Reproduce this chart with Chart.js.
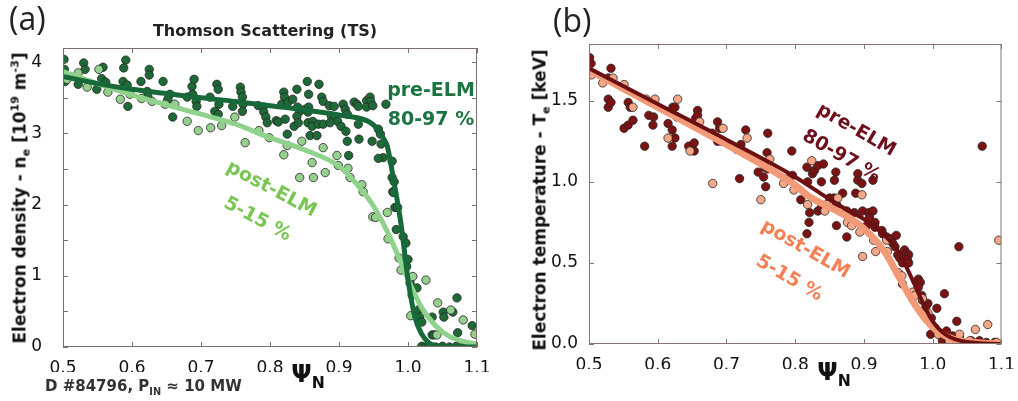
<!DOCTYPE html>
<html>
<head>
<meta charset="utf-8">
<script src="https://cdn.jsdelivr.net/npm/chart.js@4.4.1/dist/chart.umd.min.js"></script>
<style>
body { margin: 0; background: #fff; }
#fig { position: relative; width: 1018px; height: 401px; overflow: hidden; font-family: 'DejaVu Sans', sans-serif; }
canvas { position: absolute; top: 0; }
.t { position: absolute; white-space: nowrap; line-height: 1; transform: translate(-50%, -50%); font-weight: bold; }
.t sub, .t sup { font-size: 65%; line-height: 0; }
.rot { transform: translate(-50%, -50%) rotate(-90deg); }
.pl { position: absolute; font-family: 'Open Sans', sans-serif; font-size: 32px; line-height: 1; color: #222; }
</style>
</head>
<body>
<div id="fig">
  <canvas id="neChart" width="500" height="380" style="left:0"></canvas>
  <canvas id="teChart" width="508" height="380" style="left:510px"></canvas>

  <div class="pl" style="left:9px;top:2px">(a)</div>
  <div class="pl" style="left:553px;top:4px">(b)</div>

  <div class="t" style="left:265px;top:31px;font-size:16px;color:#222">Thomson Scattering (TS)</div>
  <div class="t rot" style="left:20px;top:198px;font-size:17px;color:#111">Electron density - n<sub>e</sub> [10<sup>19</sup> m<sup>-3</sup>]</div>
  <div class="t rot" style="left:540px;top:200px;font-size:17px;color:#111">Electron temperature - T<sub>e</sub> [keV]</div>
  <div class="t" style="left:308px;top:374px;font-size:24px;color:#111">&Psi;<sub>N</sub></div>
  <div class="t" style="left:834px;top:372px;font-size:24px;color:#111">&Psi;<sub>N</sub></div>
  <div class="t" style="left:45px;top:386px;transform:translate(0,-50%);font-size:15px;color:#333">D #84796, P<sub>IN</sub> &asymp; 10 MW</div>

  <div class="t" style="left:431px;top:89px;font-size:19px;color:#1c7540">pre-ELM</div>
  <div class="t" style="left:431px;top:118px;font-size:19px;color:#1c7540">80-97 %</div>
  <div class="t" style="left:272px;top:188px;font-size:19px;color:#79c653;transform:translate(-50%,-50%) rotate(28deg)">post-ELM</div>
  <div class="t" style="left:258px;top:218px;font-size:19px;color:#79c653;transform:translate(-50%,-50%) rotate(28deg)">5-15 %</div>

  <div class="t" style="left:857px;top:129px;font-size:19px;color:#6d0f1c;transform:translate(-50%,-50%) rotate(30deg)">pre-ELM</div>
  <div class="t" style="left:842px;top:155px;font-size:19px;color:#6d0f1c;transform:translate(-50%,-50%) rotate(30deg)">80-97 %</div>
  <div class="t" style="left:806px;top:248px;font-size:19px;color:#f58055;transform:translate(-50%,-50%) rotate(30deg)">post-ELM</div>
  <div class="t" style="left:790px;top:277px;font-size:19px;color:#f58055;transform:translate(-50%,-50%) rotate(30deg)">5-15 %</div>
</div>

<script>
// ---- (a) electron density, Thomson scattering ----
const nePrePsi = [0.5015,0.502,0.503,0.530,0.532,0.522,0.558,0.556,0.562,0.549,0.591,0.588,0.587,0.593,0.594,
  0.613,0.625,0.625,0.622,0.623,0.645,0.655,0.652,0.659,0.680,0.687,0.690,0.688,0.693,0.694,
  0.713,0.723,0.725,0.726,0.720,0.725,0.746,0.757,0.758,0.760,0.761,0.760,0.783,0.790,0.791,0.794,0.796,0.809,
  0.854,0.871,0.839,0.856,0.875,0.877,0.820,0.821,0.817,0.826,0.833,0.840,0.843,0.839,0.851,0.856,0.855,
  0.812,0.822,0.835,0.841,0.855,0.862,0.861,0.870,0.877,0.886,0.893,0.889,0.894,0.898,0.887,0.903,
  0.906,0.909,0.912,0.910,0.912,0.825,0.858,0.868,0.914,0.922,0.926,0.928,0.928,0.929,
  0.940,0.945,0.946,0.940,0.949,0.948,0.968,0.957,0.960,0.961,0.964,0.957,0.977,0.977,0.980,0.978,
  0.979,0.981,0.985,0.983,0.993,0.997,1.000,0.998,1.003,1.013,1.006,1.015,1.017,1.020,
  1.035,1.051,1.052,1.065,1.071,1.072,1.093,1.035,1.038,
  1.020,1.025,1.030,1.040,1.050,1.060,1.070,1.080];
const nePreVal = [4.04,3.90,3.73,3.99,3.90,3.69,3.93,3.77,3.72,3.62,4.03,3.92,3.73,3.68,3.38,
  3.73,3.90,3.82,3.59,3.52,3.73,3.55,3.48,3.23,3.51,3.66,3.76,3.55,3.45,3.38,
  3.51,3.69,3.62,3.41,3.31,3.27,3.38,3.65,3.58,3.51,3.41,3.31,3.39,3.37,3.30,3.23,3.15,3.18,
  3.73,3.69,3.62,3.55,3.51,3.45,3.58,3.51,3.41,3.44,3.48,3.37,3.31,3.24,3.34,3.37,3.30,
  3.16,3.20,3.10,3.15,3.15,3.17,3.10,3.13,3.13,3.39,3.38,3.24,3.20,3.17,3.15,3.10,
  3.41,3.34,3.27,3.03,2.89,2.99,2.97,2.97,2.69,3.44,3.41,3.38,3.13,2.92,
  3.46,3.51,3.45,3.37,3.39,2.89,3.41,3.06,2.99,2.85,2.66,2.65,2.61,2.38,2.32,2.18,
  2.17,1.96,1.96,1.65,1.55,1.46,1.23,1.13,0.90,0.83,0.73,0.52,0.42,0.35,
  0.42,0.49,0.42,0.49,0.69,0.20,0.30,0.17,0.17,
  0.01,0.00,0.01,0.00,0.01,0.00,0.01,0.00];

const nePostPsi = [0.506,0.522,0.535,0.552,0.565,0.583,0.597,0.614,0.629,0.648,0.662,0.680,0.696,0.714,0.730,
  0.749,0.764,0.784,0.799,0.820,0.825,0.843,0.846,0.861,0.863,0.877,0.880,0.897,0.899,0.913,0.916,
  0.933,0.935,0.949,0.953,0.970,0.971,0.987,0.990,1.007,1.026,1.004,1.043,1.062,1.080,1.097,1.042];
const nePostVal = [3.76,3.85,3.65,3.90,3.58,3.48,3.55,3.49,3.45,3.41,3.41,3.17,3.04,3.08,3.11,
  3.23,2.87,3.04,2.94,2.70,2.83,2.38,2.89,2.59,2.38,2.80,2.45,2.69,2.55,2.51,2.38,
  2.28,2.18,1.83,1.82,1.89,1.52,1.25,1.08,0.99,0.94,0.44,0.62,0.52,0.38,0.18,0.17];

const neFitPrePsi = [0.5,0.55,0.6,0.65,0.7,0.75,0.8,0.85,0.9,0.94,0.95,0.96,0.965,0.97,0.98,0.99,1.0,1.01,1.02,1.03,1.04,1.06,1.1];
const neFitPreVal = [3.80,3.70,3.62,3.56,3.50,3.45,3.39,3.33,3.26,3.18,3.12,3.00,2.92,2.82,2.30,1.72,0.95,0.42,0.18,0.06,0.02,0.0,0.0];
const neFitPostPsi = [0.5,0.55,0.6,0.65,0.7,0.75,0.8,0.85,0.9,0.93,0.95,0.97,0.99,1.0,1.02,1.04,1.06,1.08,1.1];
const neFitPostVal = [3.87,3.70,3.54,3.40,3.27,3.13,2.94,2.77,2.54,2.24,1.98,1.62,1.18,0.95,0.55,0.30,0.15,0.08,0.04];

// ---- (b) electron temperature ----
const tePrePsi = [0.501,0.503,0.532,0.528,0.528,0.528,0.532,0.551,0.557,0.564,0.557,0.560,0.581,0.587,0.592,0.594,0.593,
  0.615,0.621,0.625,0.621,0.622,0.625,0.628,0.645,0.653,0.653,0.655,0.658,0.658,0.679,0.687,0.687,0.690,0.693,
  0.721,0.719,0.728,0.746,0.754,0.756,0.760,0.759,0.760,0.754,0.757,0.795,0.796,0.789,
  0.817,0.818,0.825,0.828,0.833,0.841,0.838,0.859,0.857,0.891,0.891,0.808,0.821,0.820,0.817,0.833,0.838,
  0.850,0.856,0.860,0.869,0.860,0.875,0.886,0.888,0.875,
  0.897,0.913,0.898,0.907,0.913,0.908,0.916,0.904,0.916,0.926,0.927,0.933,0.940,0.947,0.942,0.945,
  0.959,0.962,0.965,0.949,0.952,0.963,0.956,0.965,1.038,0.979,0.982,0.979,0.956,0.972,0.984,0.985,
  0.993,0.990,1.017,1.006,0.998,1.003,0.997,1.020,1.035,1.014,1.029,1.039,1.056,1.068,1.078,1.090,1.023,1.072];
const tePreVal = [1.765,1.73,1.70,1.64,1.51,1.46,1.49,1.33,1.35,1.38,1.49,1.46,1.22,1.41,1.49,1.40,1.35,
  1.36,1.32,1.27,1.22,1.46,1.46,1.40,1.22,1.19,1.24,1.39,1.44,1.41,1.30,1.25,1.37,1.33,1.25,
  1.23,1.02,1.32,1.06,1.11,1.09,1.30,1.18,1.08,1.03,0.97,1.19,1.04,1.02,
  1.09,1.00,1.05,1.07,1.10,1.11,1.00,1.06,1.01,1.05,1.01,0.89,0.81,0.75,0.68,0.82,0.84,
  0.90,0.90,0.86,0.93,0.73,0.82,0.81,0.93,0.66,
  0.99,1.01,0.82,0.81,0.82,0.78,0.75,0.73,0.72,0.70,0.68,0.66,0.65,0.67,0.62,0.60,
  0.58,0.56,0.55,0.55,0.53,0.52,0.50,0.50,0.60,0.40,0.38,0.35,0.37,0.30,0.30,0.27,
  0.25,0.23,0.31,0.22,0.16,0.10,0.06,0.08,0.14,0.02,0.05,0.04,0.02,0.02,0.01,0.01,0.02,1.22];

const tePostPsi = [0.504,0.520,0.535,0.551,0.564,0.583,0.596,0.629,0.615,0.647,0.661,0.680,0.695,0.715,0.730,
  0.763,0.783,0.798,0.824,0.750,0.818,0.846,0.862,0.897,0.843,0.876,0.882,0.914,0.917,0.898,0.933,
  0.894,0.934,0.950,0.955,0.971,0.974,0.985,0.993,1.007,1.008,1.039,1.062,1.080,1.096,1.024,1.054,1.093];
const tePostVal = [1.66,1.61,1.64,1.60,1.46,1.51,1.51,1.51,1.27,1.19,1.37,0.99,1.33,1.20,1.27,
  1.14,0.99,0.95,1.13,0.89,0.86,0.86,0.90,0.92,0.82,0.75,0.73,0.64,0.57,0.54,0.64,
  0.69,0.57,0.44,0.42,0.32,0.30,0.28,0.19,0.07,0.06,0.06,0.09,0.12,0.64,0.02,0.02,0.01];

const teFitPrePsi = [0.5,0.6,0.7,0.8,0.84,0.87,0.9,0.93,0.95,0.97,0.985,1.0,1.02,1.05,1.1];
const teFitPreVal = [1.70,1.48,1.26,1.03,0.92,0.84,0.77,0.67,0.57,0.40,0.26,0.14,0.055,0.012,0.0];
const teFitPostPsi = [0.5,0.6,0.7,0.8,0.82,0.87,0.9,0.93,0.95,0.97,0.99,1.01,1.03,1.06,1.1];
const teFitPostVal = [1.69,1.46,1.23,0.98,0.91,0.80,0.71,0.57,0.42,0.27,0.15,0.07,0.03,0.01,0.0];

const xy = (xs, ys) => xs.map((x, i) => ({ x: x, y: ys[i] }));

// frame + inward ticks on all four sides, matplotlib style
const frameTicks = {
  id: 'frameTicks',
  afterDraw(chart) {
    const { ctx, chartArea: a, scales: { x, y } } = chart;
    const c = chart.options.frameColor;
    ctx.save();
    ctx.strokeStyle = c;
    ctx.lineWidth = 1;
    ctx.beginPath();
    x.ticks.forEach(t => {
      const px = Math.round(x.getPixelForValue(t.value)) + 0.5;
      ctx.moveTo(px, a.bottom); ctx.lineTo(px, a.bottom - 5);
      ctx.moveTo(px, a.top); ctx.lineTo(px, a.top + 5);
    });
    y.ticks.forEach(t => {
      const py = Math.round(y.getPixelForValue(t.value)) + 0.5;
      ctx.moveTo(a.left, py); ctx.lineTo(a.left + 5, py);
      ctx.moveTo(a.right, py); ctx.lineTo(a.right - 5, py);
    });
    ctx.stroke();
    ctx.strokeRect(a.left + 0.5, a.top + 0.5, a.width - 1, a.height - 1);
    ctx.restore();
  }
};

function pts(data, fill, order) {
  return { data, order, clip: 0, showLine: false, pointRadius: 4.2, pointHoverRadius: 4.2,
    pointBackgroundColor: fill, pointBorderColor: '#262626', pointBorderWidth: 0.8 };
}
function fit(data, color, width, order) {
  return { data, order, clip: 0, showLine: true, pointRadius: 0, borderColor: color,
    borderWidth: width, cubicInterpolationMode: 'monotone', fill: false };
}

function makeChart(id, datasets, ymax, yPad, yLabel, pad, frameColor) {
  return new Chart(document.getElementById(id), {
    type: 'scatter',
    data: { datasets },
    options: {
      responsive: false,
      animation: false,
      frameColor,
      layout: { padding: pad },
      plugins: { legend: { display: false }, tooltip: { enabled: false } },
      scales: {
        x: {
          min: 0.5, max: 1.1,
          grid: { display: false }, border: { display: false },
          ticks: { stepSize: 0.1, padding: 3, color: '#111', font: { family: 'DejaVu Sans', size: 17 },
            callback: v => v.toFixed(1) },
          afterFit: s => { s.height = 25; }
        },
        y: {
          min: 0, max: ymax,
          grid: { display: false }, border: { display: false },
          ticks: { stepSize: 0.5, includeBounds: false, padding: yPad, color: '#111',
            font: { family: 'DejaVu Sans', size: 17 }, callback: yLabel },
          afterFit: s => { s.width = 40; }
        }
      }
    },
    plugins: [frameTicks]
  });
}

makeChart('neChart', [
  fit(xy(neFitPrePsi, neFitPreVal), '#17693a', 5, 0),
  fit(xy(neFitPostPsi, neFitPostVal), '#8fd28c', 5, 1),
  pts(xy(nePostPsi, nePostVal), '#96d08e', 2),
  pts(xy(nePrePsi, nePreVal), '#1d6a37', 3)
], 4.2, 13, v => Number.isInteger(v) ? String(v) : '',
  { left: 23, right: 23, top: 48, bottom: 8 }, '#7d6e6e');

makeChart('teChart', [
  fit(xy(teFitPrePsi, teFitPreVal), '#6c0f10', 4, 0),
  fit(xy(teFitPostPsi, teFitPostVal), '#f29a78', 7, 1),
  pts(xy(tePostPsi, tePostVal), '#f5a888', 2),
  pts(xy(tePrePsi, tePreVal), '#7c1212', 3)
], 1.85, 3, v => v.toFixed(1),
  { left: 39, right: 16, top: 44, bottom: 11 }, '#8a7474');
</script>
</body>
</html>
